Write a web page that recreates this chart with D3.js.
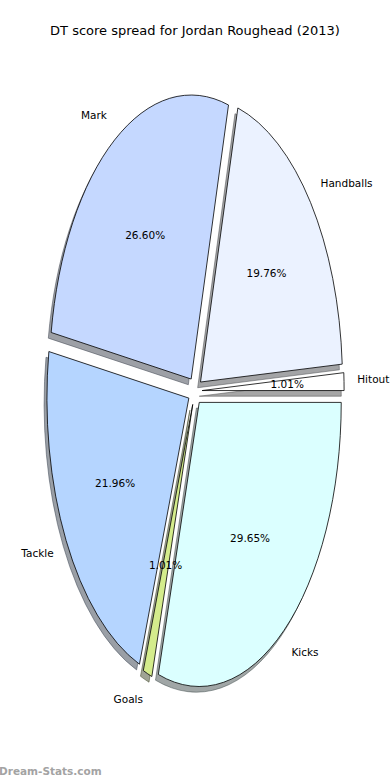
<!DOCTYPE html>
<html>
<head>
<meta charset="utf-8">
<script src="https://cdn.jsdelivr.net/npm/d3@7"></script>
<style>
html,body{margin:0;padding:0;background:#fff;}
svg{display:block;}
text{font-family:"DejaVu Sans",sans-serif;}
</style>
</head>
<body>
<svg id="chart" width="390" height="780"></svg>
<script>
const categories = ["Hitout", "Handballs", "Mark", "Tackle", "Goals", "Kicks"];
const values = [1.01, 19.76, 26.60, 21.96, 1.01, 29.65];
const colors = ["#ffffff", "#ebf2ff", "#c5d8ff", "#b5d5ff", "#d4ec8c", "#dbffff"];
const titleText = "DT score spread for Jordan Roughead (2013)";
const watermark = "Dream-Stats.com";

const W = 390, H = 780;
const cx = 195, cy = 391, rx = 142, ry = 284;
const explode = 0.05, labelDist = 1.1, pctDist = 0.6;

const svg = d3.select("#chart");
svg.append("text").attr("x", W/2).attr("y", 30).attr("text-anchor","middle")
  .attr("dominant-baseline","central").attr("font-size","13px").attr("fill","#000").text(titleText);

const total = d3.sum(values);
const pie = d3.pie().sort(null).value(d => d.v).startAngle(Math.PI/2).endAngle(Math.PI/2 - 2*Math.PI);
const data = pie(categories.map((c,i) => ({c, v: values[i], col: colors[i]})));
const arc = d3.arc().innerRadius(0).outerRadius(1);
const xs = d3.scaleLinear().domain([-1,1]).range([cx-rx, cx+rx]);
const ys = d3.scaleLinear().domain([-1,1]).range([cy+ry, cy-ry]);

data.forEach(d => {
  const a = (d.startAngle + d.endAngle)/2;
  d.theta = Math.PI/2 - a;
  d.ox = explode*Math.cos(d.theta);
  d.oy = explode*Math.sin(d.theta);
});

function shade(c){ const r = d3.rgb(c); return d3.rgb(r.r*0.3, r.g*0.3, r.b*0.3).toString(); }

// shadows
const sh = svg.append("g");
data.forEach(d => {
  const tx = xs(d.ox - 0.02), ty = ys(d.oy - 0.02);
  sh.append("path").attr("d", arc(d))
    .attr("transform", `translate(${tx},${ty}) scale(${rx},${ry})`)
    .attr("fill", shade(d.data.col)).attr("fill-opacity", 0.5)
    .attr("stroke", shade(d.data.col)).attr("stroke-opacity",0.5).attr("stroke-width",1)
    .attr("vector-effect","non-scaling-stroke");
});
// wedges
const wg = svg.append("g");
data.forEach(d => {
  const tx = xs(d.ox), ty = ys(d.oy);
  wg.append("path").attr("d", arc(d))
    .attr("transform", `translate(${tx},${ty}) scale(${rx},${ry})`)
    .attr("fill", d.data.col).attr("stroke", "#000").attr("stroke-width", 0.8)
    .attr("stroke-linejoin","round")
    .attr("vector-effect","non-scaling-stroke");
});
// labels
const lg = svg.append("g").attr("font-size","10.5px").attr("fill","#000");
data.forEach(d => {
  const lx = d.ox + labelDist*Math.cos(d.theta), ly = d.oy + labelDist*Math.sin(d.theta);
  lg.append("text").attr("x", xs(lx) - (lx > 0 ? 1 : 0)).attr("y", ys(ly) - 1.5)
    .attr("text-anchor", lx > 0 ? "start" : "end").attr("dominant-baseline","central")
    .text(d.data.c);
  const px = d.ox + pctDist*Math.cos(d.theta), py = d.oy + pctDist*Math.sin(d.theta);
  lg.append("text").attr("x", xs(px)).attr("y", ys(py) - 1)
    .attr("text-anchor","middle").attr("dominant-baseline","central")
    .text((d.data.v/total*100).toFixed(2) + "%");
});
svg.append("text").attr("x", -1).attr("y", 771).attr("dominant-baseline","central")
  .attr("font-size","10.5px").attr("font-weight","bold").attr("fill","#a3a3a3").text(watermark);
</script>
</body>
</html>
